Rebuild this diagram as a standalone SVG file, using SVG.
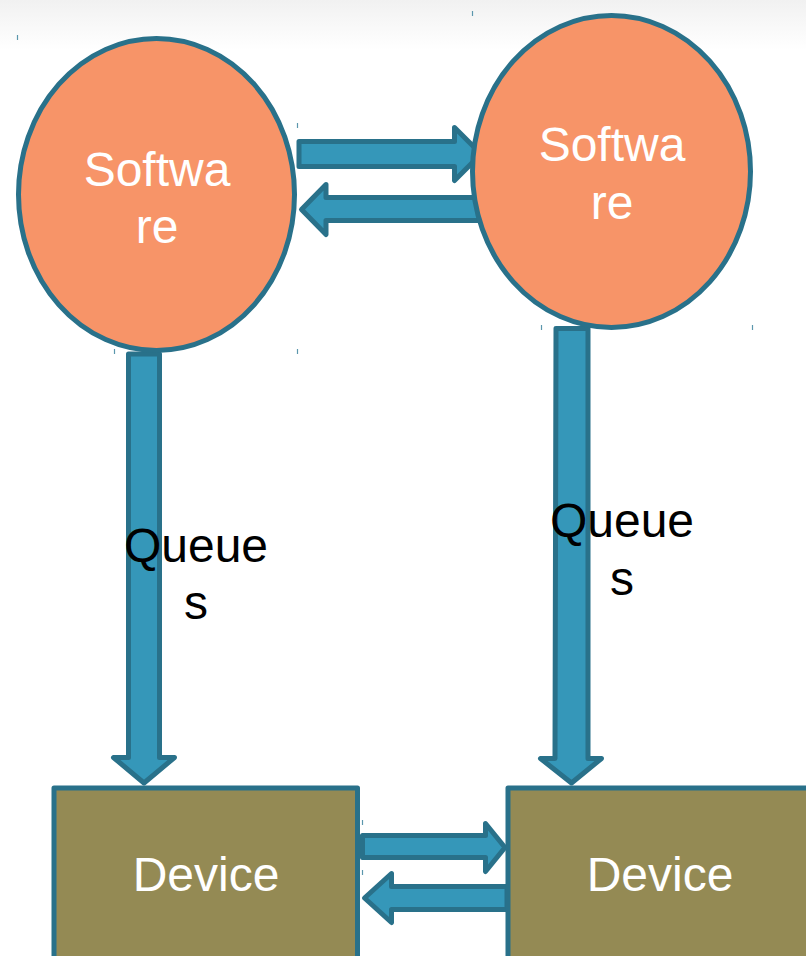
<svg xmlns="http://www.w3.org/2000/svg" width="806" height="956" viewBox="0 0 806 956">
  <defs>
    <linearGradient id="topShade" x1="0" y1="0" x2="0" y2="1">
      <stop offset="0" stop-color="#f1f1f1"/>
      <stop offset="1" stop-color="#ffffff"/>
    </linearGradient>
    <style>
      .arrow { fill: #3597b9; stroke: #29718a; stroke-width: 5; stroke-linejoin: round; }
      .soft { fill: #f79468; stroke: #29718a; stroke-width: 5; }
      .dev { fill: #948a54; stroke: #29718a; stroke-width: 5; stroke-linejoin: round; }
      .lbl { font-family: "Liberation Sans", Arial, sans-serif; font-size: 48px; text-anchor: middle; }
      .white { fill: #ffffff; }
      .black { fill: #000000; }
      .tick { stroke: #5b97ad; stroke-width: 1.2; }
    </style>
  </defs>

  <!-- page background -->
  <rect x="0" y="0" width="806" height="956" fill="#ffffff"/>
  <rect x="0" y="0" width="806" height="50" fill="url(#topShade)"/>

  <!-- connectors -->
  <g id="connectors">
    <!-- software to software (right) -->
    <polygon class="arrow" points="299,141.5 454.5,141.5 454.5,127.5 481,154 454.5,180.5 454.5,166.5 299,166.5"/>
    <!-- software to software (left) -->
    <polygon class="arrow" points="486,197.5 326,197.5 326,184.5 301.5,209.5 326,234.5 326,220.5 486,220.5"/>
    <!-- left queue -->
    <polygon class="arrow" points="128.5,354 159.5,354 159.5,757.5 174.5,757.5 144,783 113.5,757.5 128.5,757.5"/>
    <!-- right queue -->
    <polygon class="arrow" points="556,328.5 588,328.5 588,758.5 601.5,758.5 571.5,783 540.5,758.5 555,758.5"/>
    <!-- device to device (right) -->
    <polygon class="arrow" points="362.5,835.5 485.5,835.5 485.5,823.5 505,847.5 485.5,871.5 485.5,857.5 362.5,857.5"/>
    <!-- device to device (left) -->
    <polygon class="arrow" points="507,886.5 391.5,886.5 391.5,873.5 364.5,898 391.5,922.5 391.5,909.5 507,909.5"/>
  </g>

  <!-- software nodes -->
  <g id="software-left">
    <ellipse class="soft" cx="156.5" cy="194.5" rx="138" ry="156"/>
    <text class="lbl white" x="157" y="186">Softwa</text>
    <text class="lbl white" x="157" y="243">re</text>
  </g>
  <g id="software-right">
    <ellipse class="soft" cx="611.5" cy="171.5" rx="139" ry="156"/>
    <text class="lbl white" x="612" y="161">Softwa</text>
    <text class="lbl white" x="612" y="219">re</text>
  </g>

  <!-- device nodes -->
  <g id="device-left">
    <rect class="dev" x="54" y="788" width="303.5" height="200"/>
    <text class="lbl white" x="206" y="891">Device</text>
  </g>
  <g id="device-right">
    <rect class="dev" x="508" y="788" width="320" height="200"/>
    <text class="lbl white" x="660" y="891">Device</text>
  </g>

  <!-- queue labels -->
  <g id="queue-left">
    <text class="lbl black" x="196" y="562">Queue</text>
    <text class="lbl black" x="196" y="619">s</text>
  </g>
  <g id="queue-right">
    <text class="lbl black" x="622" y="537">Queue</text>
    <text class="lbl black" x="622" y="595">s</text>
  </g>

  <!-- small handle marks -->
  <g id="marks">
    <line class="tick" x1="17.5" y1="35" x2="17.5" y2="40"/>
    <line class="tick" x1="472.5" y1="11" x2="472.5" y2="16"/>
    <line class="tick" x1="297.5" y1="123" x2="297.5" y2="128"/>
    <line class="tick" x1="297.5" y1="349" x2="297.5" y2="354"/>
    <line class="tick" x1="114.5" y1="349" x2="114.5" y2="354"/>
    <line class="tick" x1="541.5" y1="325" x2="541.5" y2="330"/>
    <line class="tick" x1="752.5" y1="325" x2="752.5" y2="330"/>
    <line class="tick" x1="362.5" y1="820" x2="362.5" y2="825"/>
    <line class="tick" x1="362.5" y1="870" x2="362.5" y2="875"/>
  </g>
</svg>
